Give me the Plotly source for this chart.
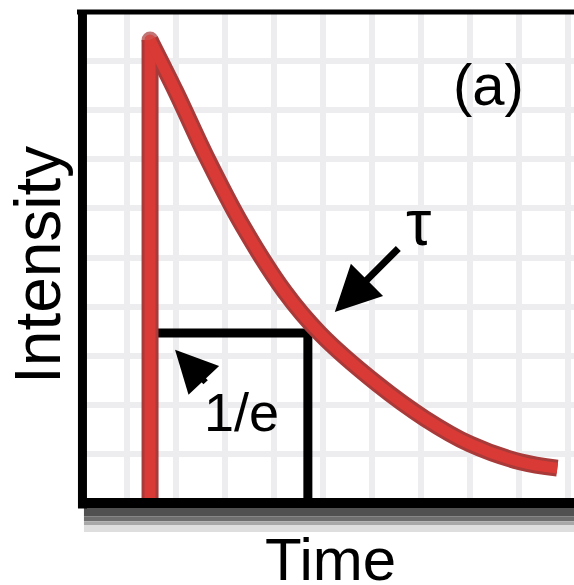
import plotly.graph_objects as go

# Fluorescence decay: excitation pulse at t0, then intensity decay
t_pulse = 1.47
time = [1.47, 2.0, 2.63, 3.35, 4.22, 4.94, 6.1, 7.08, 8.0, 9.02, 9.78]
intensity = [9.43, 8.37, 7.03, 5.66, 4.30, 3.45, 2.43, 1.72, 1.2, 0.84, 0.71]

# Lifetime marker: intensity falls to 1/e of the peak at t = tau
tau_time = 4.69
one_over_e = 3.46

RED = "#d93a35"
RED_EDGE = "#a83a3a"
FONT = "Liberation Sans, Arial, sans-serif"

fig = go.Figure()

# 1/e box (horizontal to the pulse, vertical down to the time axis)
fig.add_trace(go.Scatter(
    x=[t_pulse, tau_time, tau_time], y=[one_over_e, one_over_e, 0],
    mode="lines", line=dict(color="black", width=9),
    hoverinfo="skip", showlegend=False))

# pulse + decay, drawn twice for a soft darker edge
for color, width in [(RED_EDGE, 17), (RED, 11)]:
    fig.add_trace(go.Scatter(
        x=[t_pulse, t_pulse], y=[0, intensity[0]],
        mode="lines", line=dict(color=color, width=width),
        hoverinfo="skip", showlegend=False))
    fig.add_trace(go.Scatter(
        x=time, y=intensity,
        mode="lines+markers",
        line=dict(color=color, width=width, shape="spline", smoothing=1.0),
        marker=dict(color=color, size=[width] + [0] * (len(time) - 1),
                    line=dict(width=0)),
        hoverinfo="skip", showlegend=False))

grid = dict(showgrid=True, gridcolor="#ededf0", gridwidth=6, dtick=1,
            showticklabels=False, zeroline=False, showline=False, ticks="")

fig.update_xaxes(range=[0, 10.12], tick0=0, **grid)
fig.update_yaxes(range=[0, 10], tick0=0, **grid)

shapes = []
# drop shadow under the frame
for y0, y1, c in [(-0.010, -0.027, "#505050"), (-0.027, -0.037, "#6e6e6e"),
                  (-0.037, -0.045, "#a8a8a8"), (-0.045, -0.059, "#dedede")]:
    shapes.append(dict(type="rect", xref="paper", yref="paper",
                       x0=0.012, x1=1.0, y0=y0, y1=y1,
                       line=dict(width=0), fillcolor=c, layer="above"))
# frame
shapes.append(dict(type="line", xref="paper", yref="paper",
                   x0=-0.002, x1=1.0, y0=1.0, y1=1.0,
                   line=dict(color="black", width=5), layer="above"))
shapes.append(dict(type="line", xref="paper", yref="paper",
                   x0=0.009, x1=0.009, y0=-0.011, y1=1.004,
                   line=dict(color="black", width=9), layer="above"))
shapes.append(dict(type="line", xref="paper", yref="paper",
                   x0=0.0, x1=1.0, y0=0.0, y1=0.0,
                   line=dict(color="black", width=10), layer="above"))

annotations = [
    dict(x=8.37, y=8.53, xref="x", yref="y", text="(a)", showarrow=False,
         font=dict(family=FONT, size=58, color="black")),
    dict(x=6.94, y=5.70, xref="x", yref="y", text="τ", showarrow=False,
         font=dict(family=FONT, size=64, color="black")),
    dict(x=3.33, y=1.85, xref="x", yref="y", text="1/e", showarrow=False,
         font=dict(family=FONT, size=54, color="black")),
    # arrow pointing at the curve at tau
    dict(x=5.24, y=3.89, xref="x", yref="y", text="", showarrow=True,
         ax=65, ay=-65, arrowhead=2, arrowsize=1.3, arrowwidth=7,
         arrowcolor="black"),
    # arrow pointing at the 1/e level
    dict(x=1.98, y=3.12, xref="x", yref="y", text="", showarrow=True,
         ax=32, ay=34, arrowhead=2, arrowsize=1.4, arrowwidth=6,
         arrowcolor="black"),
    # axis titles
    dict(x=-0.156, y=0.484, xref="paper", yref="paper", text="Intensity",
         textangle=-90, showarrow=False,
         font=dict(family=FONT, size=64, color="black")),
    dict(x=0.51, y=-0.043, xref="paper", yref="paper", text="Time",
         yanchor="top", showarrow=False,
         font=dict(family=FONT, size=60, color="black")),
]

fig.update_layout(
    width=574, height=585,
    margin=dict(l=78, r=0, t=12, b=82),
    paper_bgcolor="white", plot_bgcolor="white",
    shapes=shapes, annotations=annotations,
    showlegend=False,
)

fig.write_html("out.html")
